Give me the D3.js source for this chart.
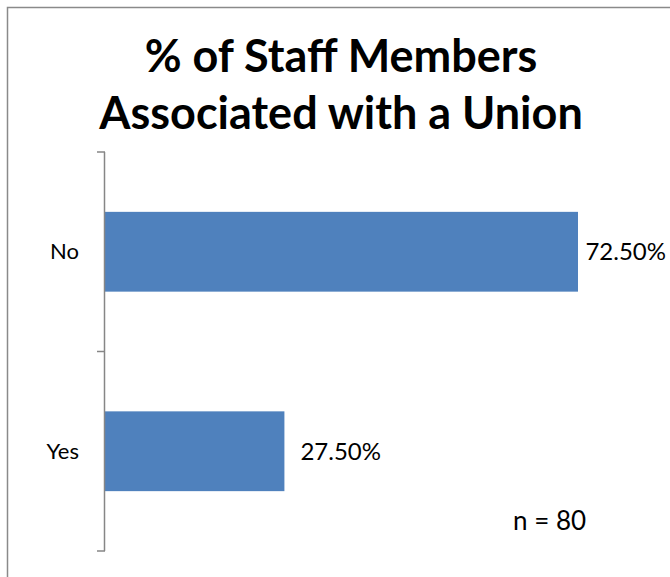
<!DOCTYPE html>
<html>
<head>
<meta charset="utf-8">
<script src="https://cdn.jsdelivr.net/npm/d3@7"></script>
<style>
  body { margin: 0; background: #fff; }
  text { font-family: Lato, "Open Sans", sans-serif; fill: #000; }
</style>
</head>
<body>
<div id="chart"></div>
<script>
const categories = ['No', 'Yes'];
const values = [72.5, 27.5];
const titleLines = ['% of Staff Members', 'Associated with a Union'];
const note = 'n = 80';

const svgWidth = 670, svgHeight = 577;
const plot = { left: 105, top: 152, bottom: 551, right: 666 };

const svg = d3.select('#chart')
  .append('svg')
  .attr('width', svgWidth)
  .attr('height', svgHeight);

// outer chart frame (runs off the right and bottom edge)
svg.append('rect')
  .attr('x', 7.5)
  .attr('y', 7.5)
  .attr('width', 700)
  .attr('height', 600)
  .attr('fill', '#fff')
  .attr('stroke', '#8a8a8a')
  .attr('stroke-width', 1.5);

svg.append('g')
  .selectAll('text')
  .data(titleLines)
  .enter()
  .append('text')
  .attr('x', 341)
  .attr('y', (d, i) => 72 + i * 57)
  .attr('text-anchor', 'middle')
  .attr('font-size', 45)
  .attr('font-weight', 'bold')
  .text(d => d);

const data = categories.map((c, i) => ({ cat: c, value: values[i] }));

const xScale = d3.scaleLinear()
  .domain([0, 80])
  .range([plot.left, plot.left + 80 * 6.524]);

const yScale = d3.scaleBand()
  .domain(categories)
  .range([plot.top, plot.bottom])
  .paddingInner(0.6)
  .paddingOuter(0.3);

svg.selectAll('rect.bar')
  .data(data)
  .enter()
  .append('rect')
  .attr('class', 'bar')
  .attr('x', xScale(0))
  .attr('y', d => yScale(d.cat))
  .attr('width', d => xScale(d.value) - xScale(0))
  .attr('height', yScale.bandwidth())
  .attr('fill', '#4f81bd');

// category axis with ticks at the band boundaries
const axis = svg.append('g').attr('class', 'y-axis');
axis.append('line')
  .attr('x1', plot.left - 0.5).attr('x2', plot.left - 0.5)
  .attr('y1', plot.top).attr('y2', plot.bottom)
  .attr('stroke', '#868686').attr('stroke-width', 1.5);

const bounds = [plot.top, ...categories.map(c => yScale(c) - yScale.step() * yScale.paddingOuter() + yScale.step())];
axis.selectAll('line.tick')
  .data(bounds)
  .enter()
  .append('line')
  .attr('class', 'tick')
  .attr('x1', plot.left - 8).attr('x2', plot.left)
  .attr('y1', d => d).attr('y2', d => d)
  .attr('stroke', '#868686').attr('stroke-width', 1.5);

axis.selectAll('text')
  .data(categories)
  .enter()
  .append('text')
  .attr('x', 79)
  .attr('y', d => yScale(d) + yScale.bandwidth() / 2)
  .attr('dy', '0.35em')
  .attr('text-anchor', 'end')
  .attr('font-size', 22)
  .text(d => d);

// value labels sit outside the bar end, pulled back in if they'd overflow
svg.selectAll('text.value')
  .data(data)
  .enter()
  .append('text')
  .attr('class', 'value')
  .attr('y', d => yScale(d.cat) + yScale.bandwidth() / 2)
  .attr('dy', '0.35em')
  .attr('font-size', 24)
  .text(d => d3.format('.2f')(d.value) + '%')
  .attr('x', function(d) {
    const w = this.getComputedTextLength();
    return Math.min(xScale(d.value) + 16, plot.right - w);
  });

svg.append('text')
  .attr('x', 513)
  .attr('y', 530)
  .attr('font-size', 26)
  .text(note);
</script>
</body>
</html>
